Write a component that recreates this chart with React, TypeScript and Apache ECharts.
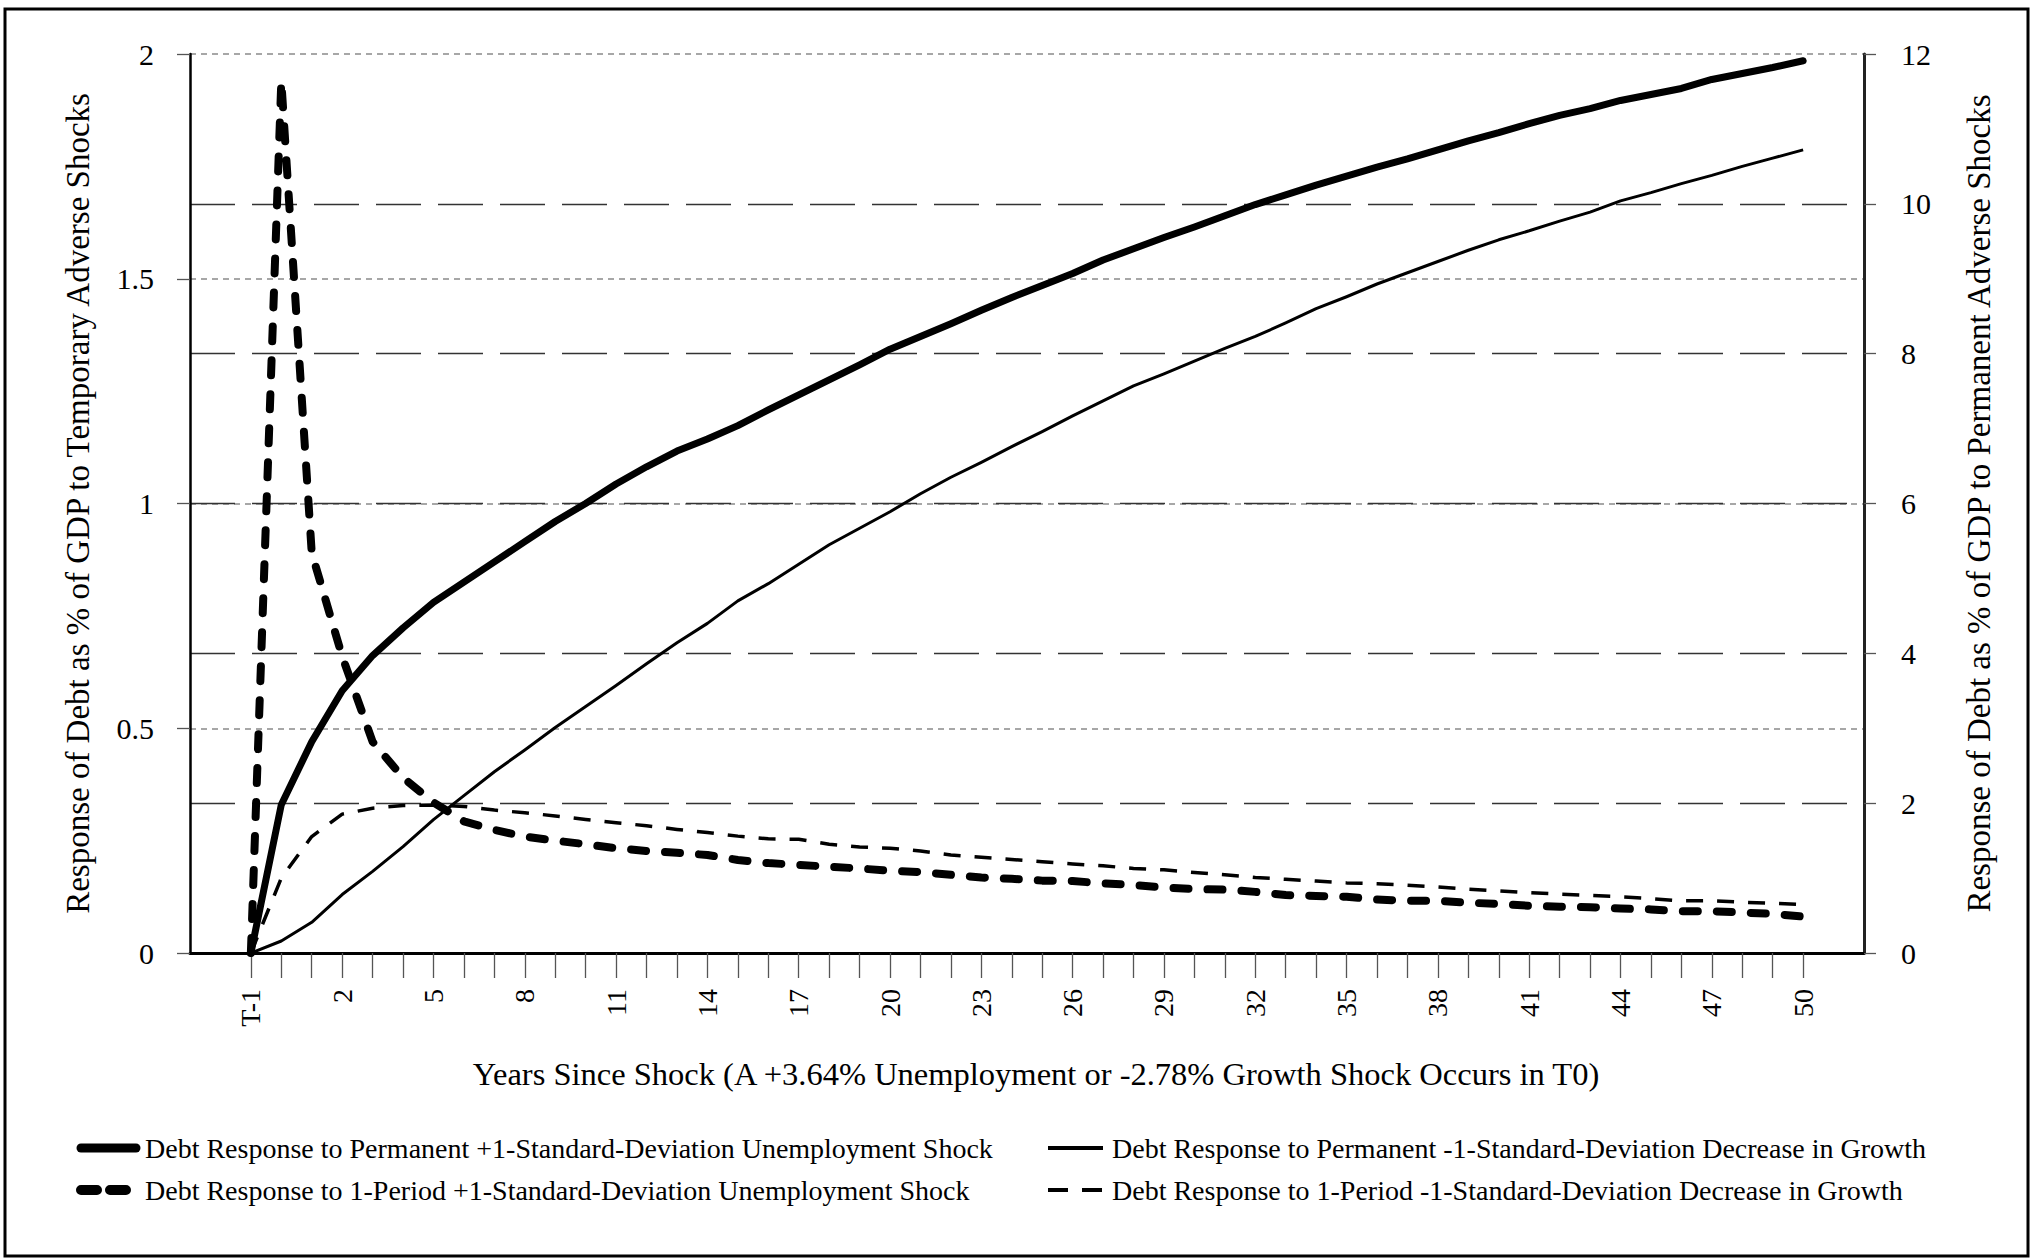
import React, { useEffect, useRef } from 'react';
import * as echarts from 'echarts';

// ---------- data ----------
const categories = [
  'T-1', 'T0', '1', '2', '3', '4', '5', '6', '7', '8', '9', '10',
  '11', '12', '13', '14', '15', '16', '17', '18', '19', '20',
  '21', '22', '23', '24', '25', '26', '27', '28', '29', '30',
  '31', '32', '33', '34', '35', '36', '37', '38', '39', '40',
  '41', '42', '43', '44', '45', '46', '47', '48', '49', '50',
];

// right axis (permanent shocks)
const permUnemployment = [
  0, 1.98, 2.82, 3.5, 3.97, 4.34, 4.68, 4.95, 5.22, 5.49, 5.76, 6.0,
  6.26, 6.49, 6.7, 6.86, 7.04, 7.25, 7.45, 7.65, 7.85, 8.06,
  8.23, 8.4, 8.58, 8.75, 8.91, 9.07, 9.25, 9.4, 9.55, 9.69,
  9.84, 9.99, 10.12, 10.25, 10.37, 10.49, 10.6, 10.72, 10.84, 10.95,
  11.07, 11.18, 11.27, 11.38, 11.46, 11.54, 11.66, 11.74, 11.82, 11.91,
];
const permGrowth = [
  0, 0.16, 0.41, 0.78, 1.09, 1.42, 1.78, 2.1, 2.42, 2.71, 3.01, 3.29,
  3.57, 3.86, 4.14, 4.4, 4.7, 4.93, 5.19, 5.45, 5.67, 5.89,
  6.13, 6.35, 6.55, 6.76, 6.96, 7.17, 7.37, 7.57, 7.73, 7.9,
  8.07, 8.23, 8.41, 8.6, 8.76, 8.93, 9.08, 9.23, 9.38, 9.52,
  9.64, 9.77, 9.89, 10.04, 10.15, 10.27, 10.38, 10.5, 10.61, 10.72,
];
// left axis (temporary shocks)
const tempUnemployment = [
  0, 1.94, 0.89, 0.66, 0.47, 0.39, 0.335, 0.293, 0.274, 0.259, 0.25, 0.242,
  0.233, 0.227, 0.223, 0.218, 0.207, 0.2, 0.196, 0.192, 0.188, 0.183,
  0.18, 0.174, 0.168, 0.165, 0.161, 0.16, 0.155, 0.151, 0.146, 0.142,
  0.141, 0.136, 0.129, 0.127, 0.125, 0.119, 0.116, 0.116, 0.112, 0.109,
  0.105, 0.103, 0.102, 0.099, 0.097, 0.093, 0.093, 0.09, 0.087, 0.081,
];
const tempGrowth = [
  0, 0.167, 0.259, 0.309, 0.322, 0.328, 0.329, 0.326, 0.318, 0.312, 0.305, 0.297,
  0.29, 0.283, 0.275, 0.268, 0.26, 0.254, 0.253, 0.242, 0.236, 0.233,
  0.227, 0.218, 0.213, 0.208, 0.203, 0.198, 0.194, 0.188, 0.185, 0.179,
  0.174, 0.168, 0.164, 0.16, 0.156, 0.154, 0.151, 0.147, 0.142, 0.138,
  0.134, 0.131, 0.128, 0.125, 0.121, 0.116, 0.116, 0.113, 0.111, 0.108,
];

const seriesNames = [
  'Debt Response to Permanent +1-Standard-Deviation Unemployment Shock',
  'Debt Response to 1-Period +1-Standard-Deviation Unemployment Shock',
  'Debt Response to Permanent -1-Standard-Deviation Decrease in Growth',
  'Debt Response to 1-Period -1-Standard-Deviation Decrease in Growth',
];

const xTitle = 'Years Since Shock (A +3.64% Unemployment or -2.78% Growth Shock Occurs in T0)';
const leftTitle = 'Response of Debt as % of GDP to Temporary Adverse Shocks';
const rightTitle = 'Response of Debt as % of GDP to Permanent Adverse Shocks';

// ---------- helpers ----------
const PAD = 2; // empty category slots on each side of the data
const padLeft = ['pad-l2', 'pad-l1'];
const padRight = ['pad-r1', 'pad-r2'];
const axisData = [...padLeft, ...categories, ...padRight];
const padSeries = (arr: number[]) => [null, null, ...arr, null, null];

const FONT = '"Liberation Serif", "Times New Roman", Times, serif';
const isData = (i: number) => i >= PAD && i < PAD + categories.length;

export default function App() {
  const ref = useRef<HTMLDivElement>(null);

  useEffect(() => {
    if (!ref.current) return;
    const chart = echarts.init(ref.current, null, { renderer: 'svg' });

    const legendText = { fontSize: 28, fontFamily: FONT, color: '#000', padding: [0, 0, 0, 4] };
    const hiddenSymbol = { opacity: 0, color: 'rgba(0,0,0,0)', borderWidth: 0 };

    const option: any = {
      animation: false,
      backgroundColor: '#ffffff',
      grid: { left: 190, right: 168, top: 54, bottom: 306, containLabel: false, outerBoundsMode: 'none' },
      xAxis: {
        type: 'category',
        data: axisData,
        boundaryGap: false,
        axisLine: { show: true, onZero: false, lineStyle: { color: '#000', width: 3 } },
        axisTick: {
          show: true,
          inside: false,
          length: 25,
          interval: (i: number) => isData(i),
          lineStyle: { color: '#555', width: 1.3 },
        },
        axisLabel: {
          show: true,
          interval: (i: number) => isData(i) && (i - PAD) % 3 === 0,
          rotate: 90,
          margin: 36,
          fontSize: 28,
          fontFamily: FONT,
          color: '#000',
        },
        splitLine: { show: false },
        name: xTitle,
        nameLocation: 'middle',
        nameGap: 104,
        nameTextStyle: { fontSize: 32.5, fontFamily: FONT, color: '#000', padding: [0, 0, 0, 18] },
      },
      yAxis: [
        {
          type: 'value',
          position: 'left',
          min: 0,
          max: 2,
          interval: 0.5,
          axisLine: { show: true, lineStyle: { color: '#000', width: 2.5 } },
          axisTick: { show: true, inside: false, length: 13, lineStyle: { color: '#555', width: 1.3 } },
          axisLabel: { margin: 36, fontSize: 30, fontFamily: FONT, color: '#000' },
          splitLine: {
            show: true,
            showMinLine: false,
            lineStyle: { color: '#8a8a8a', width: 1.5, type: [6, 5] },
          },
          name: leftTitle,
          nameLocation: 'middle',
          nameRotate: 90,
          nameGap: 96,
          nameTextStyle: { fontSize: 33, fontFamily: FONT, color: '#000' },
        },
        {
          type: 'value',
          position: 'right',
          min: 0,
          max: 12,
          interval: 2,
          axisLine: { show: true, lineStyle: { color: '#222', width: 3 } },
          axisTick: { show: true, inside: false, length: 12, lineStyle: { color: '#555', width: 1.3 } },
          axisLabel: { margin: 37, fontSize: 30, fontFamily: FONT, color: '#000' },
          splitLine: {
            show: true,
            showMinLine: false,
            showMaxLine: false,
            lineStyle: { color: '#333', width: 1.4, type: [45, 17] },
          },
          name: rightTitle,
          nameLocation: 'middle',
          nameRotate: 90,
          nameGap: 98,
          nameTextStyle: { fontSize: 33, fontFamily: FONT, color: '#000' },
        },
      ],
      legend: [
        {
          orient: 'vertical',
          left: 76,
          top: 1134,
          padding: 0,
          itemWidth: 55,
          itemHeight: 14,
          itemGap: 14,
          selectedMode: false,
          textStyle: legendText,
          itemStyle: hiddenSymbol,
          data: [
            { name: seriesNames[0], itemStyle: hiddenSymbol, lineStyle: { width: 9, cap: 'round' } },
            { name: seriesNames[1], itemStyle: hiddenSymbol, lineStyle: { width: 10, type: [16, 13], cap: 'round' } },
          ],
        },
        {
          orient: 'vertical',
          left: 1046,
          top: 1134,
          padding: 0,
          itemWidth: 55,
          itemHeight: 14,
          itemGap: 14,
          selectedMode: false,
          textStyle: legendText,
          itemStyle: hiddenSymbol,
          data: [
            { name: seriesNames[2], itemStyle: hiddenSymbol, lineStyle: { width: 4 } },
            { name: seriesNames[3], itemStyle: hiddenSymbol, lineStyle: { width: 4, type: [20, 14] } },
          ],
        },
      ],
      series: [
        {
          name: seriesNames[0],
          type: 'line',
          yAxisIndex: 1,
          data: padSeries(permUnemployment),
          symbol: 'none',
          showSymbol: false,
          z: 4,
          lineStyle: { color: '#000', width: 7, cap: 'round', join: 'round' },
          itemStyle: { color: '#000' },
        },
        {
          name: seriesNames[1],
          type: 'line',
          yAxisIndex: 0,
          data: padSeries(tempUnemployment),
          symbol: 'none',
          showSymbol: false,
          z: 3,
          lineStyle: { color: '#000', width: 8, type: [15, 19], cap: 'round', join: 'round' },
          itemStyle: { color: '#000' },
        },
        {
          name: seriesNames[2],
          type: 'line',
          yAxisIndex: 1,
          data: padSeries(permGrowth),
          symbol: 'none',
          showSymbol: false,
          z: 3,
          lineStyle: { color: '#000', width: 3, join: 'round' },
          itemStyle: { color: '#000' },
        },
        {
          name: seriesNames[3],
          type: 'line',
          yAxisIndex: 0,
          data: padSeries(tempGrowth),
          symbol: 'none',
          showSymbol: false,
          z: 3,
          lineStyle: { color: '#000', width: 3.5, type: [17, 14], join: 'round' },
          itemStyle: { color: '#000' },
        },
      ],
      graphic: [
        {
          type: 'rect',
          silent: true,
          z: 100,
          shape: { x: 5, y: 9, width: 2023, height: 1247 },
          style: { fill: 'none', stroke: '#000', lineWidth: 3 },
        },
      ],
    };

    chart.setOption(option);
    return () => chart.dispose();
  }, []);

  return (
    <div
      ref={ref}
      style={{ position: 'absolute', left: 0, top: 0, width: 2032, height: 1259, background: '#fff' }}
    />
  );
}
